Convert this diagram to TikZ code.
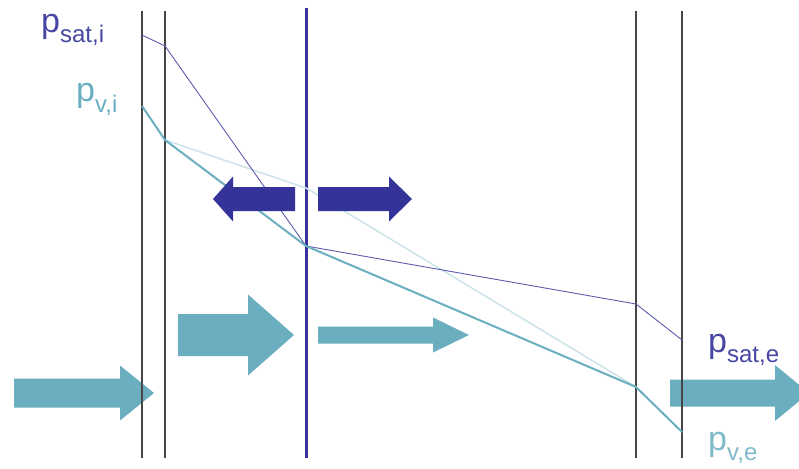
\documentclass[tikz,border=0pt]{standalone}
\usepackage{fontspec}
\setmainfont{Liberation Sans}
\usepackage{tikz}
\usetikzlibrary{calc}

\definecolor{satblue}{RGB}{51,51,153}
\definecolor{vteal}{RGB}{106,174,192}
\definecolor{wallgray}{RGB}{70,70,70}

% fat block arrow: style, tail x, head base x, tip x, y, half shaft, half head
\newcommand{\fatarrow}[7]{%
  \fill[#1] (#2,{#5-#6}) -- (#3,{#5-#6}) -- (#3,{#5-#7}) -- (#4,#5)
    -- (#3,{#5+#7}) -- (#3,{#5+#6}) -- (#2,{#5+#6}) -- cycle;}
% pressure label with subscript
\newcommand{\plab}[1]{\fontsize{34}{34}\selectfont p\raisebox{-10pt}{\fontsize{24}{24}\selectfont #1}}

\begin{document}
\begin{tikzpicture}[x=1pt,y=-1pt,
	wall/.style={wallgray, line width=1.2pt},
	membrane/.style={satblue, line width=3pt},
	satline/.style={satblue!80, line width=0.9pt, line join=round},
	vline/.style={vteal, line width=2pt, line join=round},
	vlight/.style={vteal!35, line width=1.5pt},
	flux/.style={fill=vteal},
	diff/.style={fill=satblue},
	lab/.style={anchor=base west, inner sep=0pt}]
	\useasboundingbox (0,0) rectangle (799,468);
	\clip (0,0) rectangle (799,468);

	% vapour flow
	\fatarrow{flux}{14}{120}{154}{393}{14.5}{27.5}
	\fatarrow{flux}{178}{248}{294}{335}{21}{40.5}
	\fatarrow{flux}{318}{433}{469}{335}{8.5}{17.5}
	\fatarrow{flux}{670}{775}{809}{393}{13.5}{28}

	% layers
	\foreach \x/\n in {142/a,165/b,636/c,682/d}{
		\coordinate (w\n-t) at (\x,11);
		\coordinate (w\n-b) at (\x,458);
		\draw[wall] (w\n-t) -- (w\n-b);
	}
	\coordinate (m-t) at (306,8);
	\coordinate (m-b) at (306,458);
	\draw[membrane] (m-t) -- (m-b);

	% pressure curves
	\coordinate (si) at (142,35);
	\coordinate (s1) at (165,46);
	\coordinate (sm) at (306,246);
	\coordinate (s2) at (636,304);
	\coordinate (se) at (682,340);
	\coordinate (vi) at (142,106);
	\coordinate (v1) at (165,140);
	\coordinate (vm) at (306,188);
	\coordinate (v2) at (636,387);
	\coordinate (ve) at (682,432);
	\draw[vlight] (v1) -- (vm) -- (v2);
	\draw[satline] (si) -- (s1) -- (sm) -- (s2) -- (se);
	\draw[vline] (vi) -- (v1) -- (sm) -- (v2) -- (ve);

	% moisture redistribution
	\fatarrow{diff}{295}{233}{213}{199}{12}{22.5}
	\fatarrow{diff}{318}{389}{412}{199}{12}{22.5}

	\node[lab, text=satblue!90] (psati) at (41,33) {\plab{sat,i}};
	\node[lab, text=vteal] (pvi) at (76,102) {\plab{v,i}};
	\node[lab, text=satblue!90] (psate) at (708,352) {\plab{sat,e}};
	\node[lab, text=vteal!85] (pve) at (708,450) {\plab{v,e}};
\end{tikzpicture}
\end{document}
